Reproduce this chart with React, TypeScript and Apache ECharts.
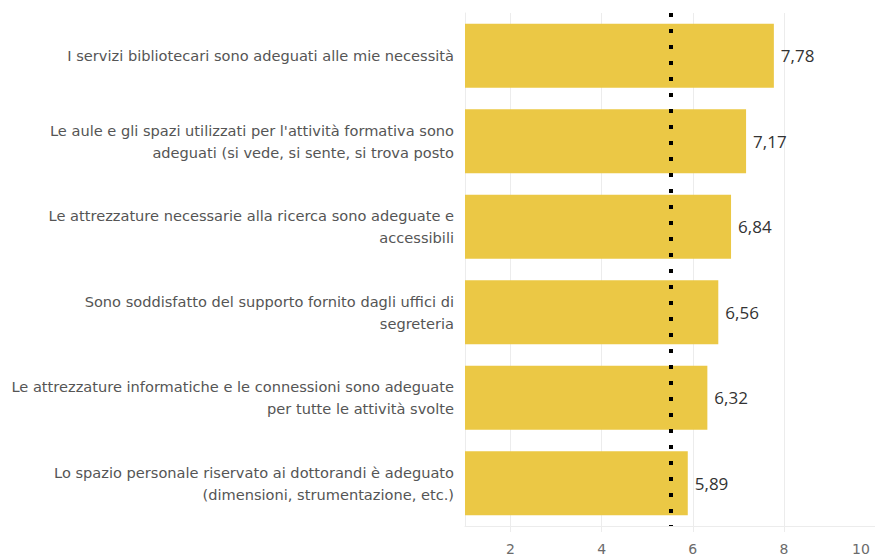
import React, { useEffect, useRef } from "react";
import * as echarts from "echarts";

const categories: string[] = [
  "I servizi bibliotecari sono adeguati alle mie necessità",
  "Le aule e gli spazi utilizzati per l'attività formativa sono\nadeguati (si vede, si sente, si trova posto",
  "Le attrezzature necessarie alla ricerca sono adeguate e\naccessibili",
  "Sono soddisfatto del supporto fornito dagli uffici di\nsegreteria",
  "Le attrezzature informatiche e le connessioni sono adeguate\nper tutte le attività svolte",
  "Lo spazio personale riservato ai dottorandi è adeguato\n(dimensioni, strumentazione, etc.)",
];
const values: number[] = [7.78, 7.17, 6.84, 6.56, 6.32, 5.89];
const referenceValue = 5.51;
const xTicks: number[] = [2, 4, 6, 8, 10];

export default function App() {
  const ref = useRef<HTMLDivElement>(null);
  useEffect(() => {
    if (!ref.current) return;
    const chart = echarts.init(ref.current, undefined, { renderer: "svg" });
    const gridColor = "#ececec";
    chart.setOption({
      animation: false,
      textStyle: { fontFamily: "DejaVu Sans" },
      grid: { left: 465, right: -2, top: 13, bottom: 31, containLabel: false },
      xAxis: {
        type: "value",
        min: 1,
        max: 10,
        axisLine: { show: true, lineStyle: { color: gridColor, width: 1 } },
        axisTick: { show: true, length: 6, customValues: xTicks, lineStyle: { color: gridColor } },
        splitLine: { show: true, lineStyle: { color: gridColor, width: 1 } },
        axisLabel: {
          customValues: xTicks,
          margin: 16,
          fontSize: 14,
          color: "#6b6b6b",
          fontFamily: "DejaVu Sans",
          formatter: (v: number) => (v === 10 ? "{end|10}" : String(v)),
          rich: { end: { padding: [0, 28, 0, 0], fontSize: 14, color: "#6b6b6b", fontFamily: "DejaVu Sans" } },
        },
      },
      yAxis: {
        type: "category",
        data: categories,
        inverse: true,
        axisLine: { show: true, lineStyle: { color: gridColor } },
        axisTick: { show: false },
        axisLabel: {
          margin: 11,
          fontSize: 14.6,
          lineHeight: 22,
          color: "#555555",
          align: "right",
          fontFamily: "DejaVu Sans",
        },
      },
      series: [
        {
          type: "bar",
          data: values,
          barWidth: "75%",
          itemStyle: { color: "#ebc845" },
          label: {
            show: true,
            position: "right",
            distance: 7,
            fontSize: 17,
            color: "#333333",
            fontFamily: "Open Sans",
            formatter: (p: any) => Number(p.value).toFixed(2).replace(".", ","),
          },
          markLine: {
            silent: true,
            symbol: "none",
            label: { show: false },
            lineStyle: { color: "#000000", type: [4, 12], width: 4, cap: "butt" },
            data: [{ xAxis: referenceValue }],
          },
        },
      ],
    });
    return () => chart.dispose();
  }, []);
  return (
    <div
      ref={ref}
      style={{ position: "absolute", left: 0, top: 0, width: 875, height: 557, background: "#fff" }}
    />
  );
}
